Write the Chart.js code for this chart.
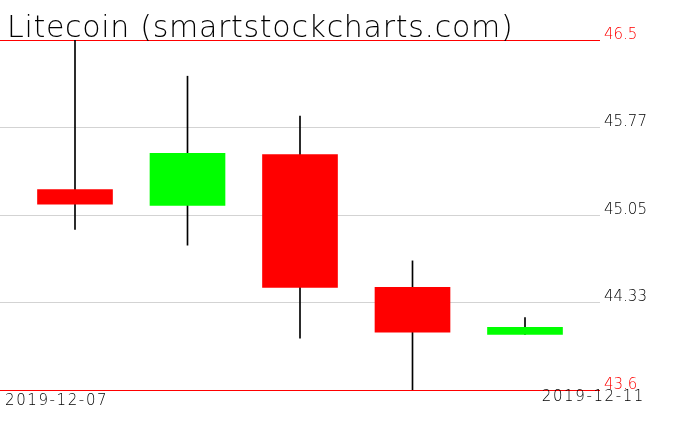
<!DOCTYPE html>
<html>
<head>
<meta charset="utf-8">
<script src="https://cdn.jsdelivr.net/npm/chart.js@4/dist/chart.umd.min.js"></script>
<style>
  body { margin: 0; background: #fff; }
  #wrap { width: 676px; height: 431px; }
</style>
</head>
<body>
<div id="wrap"><canvas id="ltc--chart" width="676" height="431"></canvas></div>
<script>
"use strict";

const title = 'Litecoin (smartstockcharts.com)';
const dates = ['2019-12-07', '2019-12-08', '2019-12-09', '2019-12-10', '2019-12-11'];
const opens = [45.26, 45.13, 45.55, 44.45, 44.06];
const highs = [46.50, 46.20, 45.87, 44.67, 44.20];
const lows = [44.93, 44.80, 44.03, 43.60, 44.06];
const closes = [45.14, 45.56, 44.45, 44.08, 44.12];
const yTicks = [43.6, 44.325, 45.05, 45.775, 46.5];
const yTickLabels = ['43.6', '44.33', '45.05', '45.77', '46.5'];

const UP = '#00ff00';
const DOWN = '#ff0000';

// title + first/last date, drawn in the same thin wide style as the original
const textPlugin = {
    id: 'textPlugin',
    afterDraw(chart) {
        const ctx = chart.ctx;
        const area = chart.chartArea;
        ctx.save();
        ctx.fillStyle = '#000';
        ctx.textBaseline = 'alphabetic';
        ctx.letterSpacing = '0.7px';
        ctx.font = '200 30px "DejaVu Sans"';
        ctx.textAlign = 'left';
        ctx.fillText(title, area.left + 7, area.top - 3);

        ctx.letterSpacing = '1.6px';
        ctx.font = '200 15px "DejaVu Sans"';
        ctx.fillText(dates[0], area.left + 5, area.bottom + 15);
        ctx.textAlign = 'right';
        ctx.fillText(dates[dates.length - 1], area.right + 45, area.bottom + 11);
        ctx.restore();
    }
};

const bodies = dates.map((d, i) => ({ x: i, y: [opens[i], closes[i]] }));
const wicks = dates.map((d, i) => ({ x: i, y: [lows[i], highs[i]] }));
const bodyColors = dates.map((d, i) => closes[i] >= opens[i] ? UP : DOWN);

const ctx = document.getElementById('ltc--chart').getContext('2d');

new Chart(ctx, {
    type: 'bar',
    data: {
        datasets: [{
            label: 'body',
            data: bodies,
            backgroundColor: bodyColors,
            borderWidth: 0,
            barThickness: 75,
            grouped: false,
            order: 0
        }, {
            label: 'wick',
            data: wicks,
            backgroundColor: '#000',
            borderWidth: 0,
            barThickness: 1,
            grouped: false,
            order: 1
        }]
    },
    options: {
        responsive: false,
        animation: false,
        devicePixelRatio: 1,
        layout: {
            padding: { top: 40, bottom: 41, left: 0, right: 0 }
        },
        plugins: {
            legend: { display: false },
            tooltip: { enabled: false },
            title: { display: false }
        },
        scales: {
            x: {
                type: 'linear',
                min: -2 / 3,
                max: 4 + 2 / 3,
                offset: false,
                display: false
            },
            y: {
                type: 'linear',
                position: 'right',
                min: yTicks[0],
                max: yTicks[yTicks.length - 1],
                afterBuildTicks: function (scale) {
                    scale.ticks = yTicks.map(v => ({ value: v }));
                },
                afterFit: function (scale) {
                    scale.width = 76;  // keep plot area 0..600
                },
                border: { display: false },
                grid: {
                    drawTicks: false,
                    lineWidth: 1,
                    color: function (c) {
                        const last = yTicks.length - 1;
                        return (c.index === 0 || c.index === last) ? DOWN : '#d3d3d3';
                    }
                },
                ticks: {
                    padding: 4,
                    labelOffset: -5,
                    font: { family: 'DejaVu Sans', size: 15, weight: 200 },
                    color: function (c) {
                        const last = yTicks.length - 1;
                        return (c.index === 0 || c.index === last) ? DOWN : '#000';
                    },
                    callback: function (value, index) {
                        return yTickLabels[index];
                    }
                }
            }
        }
    },
    plugins: [textPlugin]
});
</script>
</body>
</html>
